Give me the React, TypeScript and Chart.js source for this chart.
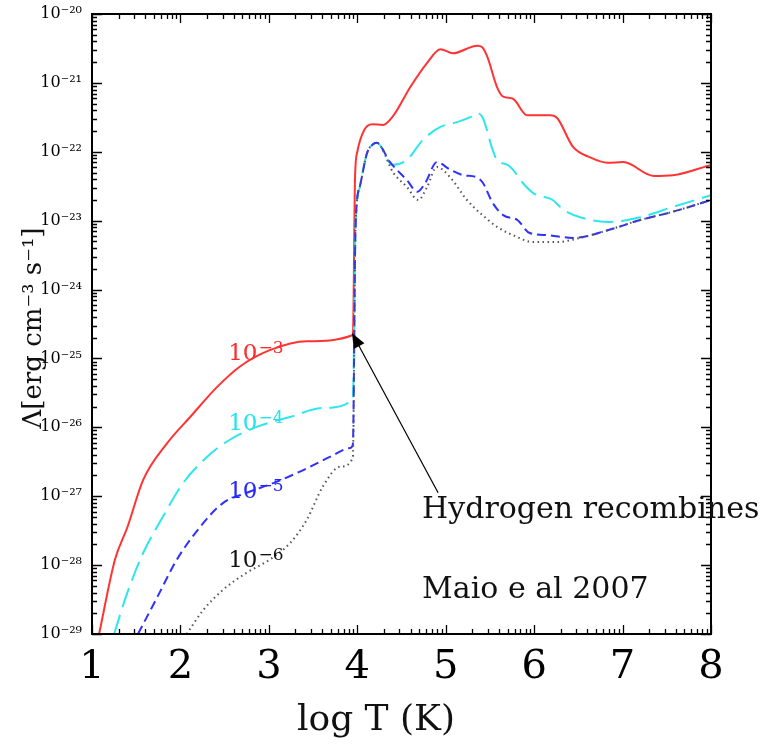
import React, { useEffect, useRef } from "react";
import { Chart, registerables } from "chart.js";

Chart.register(...registerables);

// x = log T (K); y values given as log10(Λ)
const redX = [1.08, 1.26, 1.40, 1.58, 1.85, 2.11, 2.41, 2.67, 3.01, 3.43, 3.95, 3.975, 4.0, 4.08, 4.17, 4.29, 4.40, 4.60, 4.79, 4.94, 5.08, 5.355, 5.41, 5.47, 5.58, 5.65, 5.76, 5.92, 6.18, 6.26, 6.44, 6.63, 6.83, 7.01, 7.35, 7.57, 8.0];
const redLog = [-29.0, -27.92, -27.45, -26.76, -26.23, -25.85, -25.42, -25.12, -24.88, -24.75, -24.66, -22.35, -22.0, -21.68, -21.60, -21.61, -21.49, -21.06, -20.71, -20.51, -20.57, -20.46, -20.48, -20.62, -21.06, -21.20, -21.23, -21.47, -21.47, -21.51, -21.93, -22.08, -22.16, -22.15, -22.35, -22.34, -22.19];

const cyanX = [1.25, 1.40, 1.58, 1.80, 2.03, 2.30, 2.56, 2.87, 3.24, 3.61, 3.95, 3.98, 4.03, 4.11, 4.17, 4.22, 4.40, 4.56, 4.74, 4.94, 5.13, 5.29, 5.36, 5.42, 5.53, 5.58, 5.70, 5.76, 5.87, 5.99, 6.21, 6.33, 6.52, 6.83, 7.20, 7.57, 8.0];
const cyanLog = [-29.0, -28.40, -27.82, -27.30, -26.81, -26.43, -26.18, -25.99, -25.85, -25.72, -25.60, -23.1, -22.5, -22.02, -21.90, -21.87, -22.19, -22.12, -21.83, -21.64, -21.57, -21.49, -21.44, -21.51, -21.97, -22.12, -22.19, -22.26, -22.45, -22.60, -22.70, -22.84, -22.95, -23.02, -22.95, -22.80, -22.63];

const blueX = [1.52, 1.74, 1.96, 2.22, 2.48, 2.75, 3.05, 3.39, 3.69, 3.92, 3.95, 3.98, 4.03, 4.11, 4.17, 4.22, 4.37, 4.56, 4.68, 4.77, 4.90, 5.05, 5.20, 5.35, 5.42, 5.53, 5.65, 5.81, 5.95, 6.15, 6.44, 6.83, 7.20, 7.57, 8.0];
const blueLog = [-29.0, -28.46, -27.92, -27.45, -27.10, -26.95, -26.81, -26.62, -26.43, -26.30, -26.25, -23.1, -22.5, -22.02, -21.90, -21.87, -22.15, -22.41, -22.58, -22.45, -22.15, -22.26, -22.34, -22.37, -22.45, -22.74, -22.92, -22.99, -23.18, -23.21, -23.25, -23.14, -22.99, -22.87, -22.70];

const blackX = [2.07, 2.26, 2.48, 2.75, 3.01, 3.24, 3.43, 3.61, 3.81, 3.95, 3.98, 4.03, 4.11, 4.17, 4.22, 4.41, 4.56, 4.69, 4.79, 4.90, 5.05, 5.24, 5.39, 5.58, 5.76, 5.99, 6.26, 6.52, 6.83, 7.20, 7.57, 8.0];
const blackLog = [-29.0, -28.65, -28.36, -28.11, -27.92, -27.68, -27.34, -26.86, -26.57, -26.44, -23.1, -22.5, -22.02, -21.90, -21.87, -22.31, -22.51, -22.70, -22.51, -22.22, -22.37, -22.70, -22.89, -23.09, -23.21, -23.31, -23.31, -23.25, -23.14, -22.99, -22.87, -22.70];

const xTickValues = [1, 2, 3, 4, 5, 6, 7, 8];
const yDecades = [-29, -28, -27, -26, -25, -24, -23, -22, -21, -20];

const seriesLabels = [
  { base: "10", exp: "\u22123", color: "#ff2a2a", x: 2.54, logy: -25.02 },
  { base: "10", exp: "\u22124", color: "#22e4ee", x: 2.54, logy: -26.04 },
  { base: "10", exp: "\u22125", color: "#2626ff", x: 2.54, logy: -27.02 },
  { base: "10", exp: "\u22126", color: "#111111", x: 2.54, logy: -28.03 },
];
const notes = [
  { text: "Hydrogen recombines", x: 4.733, logy: -27.315 },
  { text: "Maio e al 2007", x: 4.733, logy: -28.476 },
];
const arrow = { fromX: 4.914, fromLogY: -26.95, toX: 3.94, toLogY: -24.63 };

const SERIF = '"DejaVu Serif", serif';
const SUP: Record<string, string> = { "-": "\u207B", "0": "\u2070", "1": "\u00B9", "2": "\u00B2", "3": "\u00B3", "4": "\u2074", "5": "\u2075", "6": "\u2076", "7": "\u2077", "8": "\u2078", "9": "\u2079" };
const sup = (s: string) => s.split("").map((c) => SUP[c] ?? c).join("");

const pts = (xs: number[], ls: number[]) => xs.map((x, i) => ({ x, y: Math.pow(10, ls[i]) }));

const decorPlugin = {
  id: "decor",
  afterDraw(chart: any) {
    const { ctx, chartArea: a, scales } = chart;
    const xs = scales.x;
    const ys = scales.y;
    ctx.save();
    // inward ticks
    ctx.strokeStyle = "#000";
    ctx.lineWidth = 1.3;
    ctx.beginPath();
    for (let n = 1; n <= 8; n++) {
      for (let k = 1; k <= 9; k++) {
        const v = n + Math.log10(k);
        if (v > 8.0001) break;
        const px = Math.round(xs.getPixelForValue(v)) + 0.5;
        const len = k === 1 ? 9 : 5;
        ctx.moveTo(px, a.bottom);
        ctx.lineTo(px, a.bottom - len);
        ctx.moveTo(px, a.top);
        ctx.lineTo(px, a.top + len);
      }
    }
    for (let e = -29; e <= -20; e++) {
      for (let k = 1; k <= 9; k++) {
        if (e === -20 && k > 1) break;
        const py = Math.round(ys.getPixelForValue(k * Math.pow(10, e))) + 0.5;
        const len = k === 1 ? 10 : 5;
        ctx.moveTo(a.left, py);
        ctx.lineTo(a.left + len, py);
        ctx.moveTo(a.right, py);
        ctx.lineTo(a.right - len, py);
      }
    }
    ctx.stroke();
    // frame
    ctx.lineWidth = 2;
    ctx.strokeRect(a.left, a.top, a.right - a.left, a.bottom - a.top);

    // series labels
    ctx.textBaseline = "alphabetic";
    ctx.textAlign = "left";
    for (const s of seriesLabels) {
      const px = xs.getPixelForValue(s.x);
      const py = ys.getPixelForValue(Math.pow(10, s.logy));
      ctx.fillStyle = s.color;
      ctx.font = `23px ${SERIF}`;
      ctx.fillText(s.base, px, py);
      const w = ctx.measureText(s.base).width;
      ctx.font = `17px ${SERIF}`;
      ctx.fillText(s.exp, px + w + 1, py - 7);
    }

    // arrow
    const ax1 = xs.getPixelForValue(arrow.fromX);
    const ay1 = ys.getPixelForValue(Math.pow(10, arrow.fromLogY));
    const ax2 = xs.getPixelForValue(arrow.toX);
    const ay2 = ys.getPixelForValue(Math.pow(10, arrow.toLogY));
    const ang = Math.atan2(ay2 - ay1, ax2 - ax1);
    const hl = 15, hw = 6;
    ctx.strokeStyle = "#000";
    ctx.lineWidth = 1.2;
    ctx.beginPath();
    ctx.moveTo(ax1, ay1);
    ctx.lineTo(ax2 - Math.cos(ang) * hl * 0.8, ay2 - Math.sin(ang) * hl * 0.8);
    ctx.stroke();
    ctx.fillStyle = "#000";
    ctx.beginPath();
    ctx.moveTo(ax2, ay2);
    ctx.lineTo(ax2 - Math.cos(ang) * hl - Math.sin(ang) * hw, ay2 - Math.sin(ang) * hl + Math.cos(ang) * hw);
    ctx.lineTo(ax2 - Math.cos(ang) * hl + Math.sin(ang) * hw, ay2 - Math.sin(ang) * hl - Math.cos(ang) * hw);
    ctx.closePath();
    ctx.fill();

    // notes
    ctx.font = `30px ${SERIF}`;
    ctx.fillStyle = "#111";
    for (const n of notes) {
      ctx.fillText(n.text, xs.getPixelForValue(n.x), ys.getPixelForValue(Math.pow(10, n.logy)));
    }

    // axis titles
    ctx.font = `36px ${SERIF}`;
    ctx.textAlign = "center";
    ctx.textBaseline = "alphabetic";
    ctx.fillText("log T (K)", 376, 730);

    ctx.translate(41, 328);
    ctx.rotate(-Math.PI / 2);
    ctx.font = `26px ${SERIF}`;
    ctx.fillText("\u039B[erg cm\u207B\u00B3 s\u207B\u00B9]", 0, 0);
    ctx.restore();
  },
};

export default function App() {
  const ref = useRef<HTMLCanvasElement | null>(null);
  useEffect(() => {
    if (!ref.current) return;
    const common = { pointRadius: 0, fill: false, cubicInterpolationMode: "monotone" as const };
    const chart = new Chart(ref.current, {
      type: "line",
      data: {
        datasets: [
          { label: "1e-6", data: pts(blackX, blackLog), borderColor: "#555555", borderWidth: 2, borderDash: [1.5, 3.5], ...common },
          { label: "1e-5", data: pts(blueX, blueLog), borderColor: "#3030ff", borderWidth: 2, borderDash: [9, 5], ...common },
          { label: "1e-4", data: pts(cyanX, cyanLog), borderColor: "#2ee6ee", borderWidth: 2, borderDash: [20, 8], ...common },
          { label: "1e-3", data: pts(redX, redLog), borderColor: "#ff3333", borderWidth: 2, ...common },
        ],
      },
      options: {
        animation: false,
        responsive: false,
        layout: { padding: { top: 14, right: 53, left: 0, bottom: 0 } },
        plugins: { legend: { display: false }, tooltip: { enabled: false } },
        scales: {
          x: {
            type: "linear",
            min: 1,
            max: 8,
            afterBuildTicks: (s: any) => { s.ticks = xTickValues.map((v) => ({ value: v })); },
            afterFit: (s: any) => { s.height = 111; s.paddingLeft = 0; s.paddingRight = 0; },
            grid: { display: false, drawTicks: false },
            border: { display: false },
            ticks: { color: "#000", font: { family: SERIF, size: 40 }, padding: 10, maxRotation: 0, autoSkip: false },
          },
          y: {
            type: "logarithmic",
            min: 1e-29,
            max: 1e-20,
            afterBuildTicks: (s: any) => { s.ticks = yDecades.map((e) => ({ value: Math.pow(10, e) })); },
            afterFit: (s: any) => { s.width = 92; s.paddingTop = 0; s.paddingBottom = 0; },
            grid: { display: false, drawTicks: false },
            border: { display: false },
            ticks: {
              color: "#000",
              font: { family: SERIF, size: 16 },
              padding: 10,
              autoSkip: false,
              callback: (v: any) => "10" + sup(String(Math.round(Math.log10(Number(v))))),
            },
          },
        },
      },
      plugins: [decorPlugin],
    });
    return () => chart.destroy();
  }, []);
  return (
    <div style={{ position: "fixed", left: 0, top: 0, width: 764, height: 745, background: "#fff" }}>
      <canvas ref={ref} width={764} height={745} style={{ display: "block", width: 764, height: 745 }} />
    </div>
  );
}
